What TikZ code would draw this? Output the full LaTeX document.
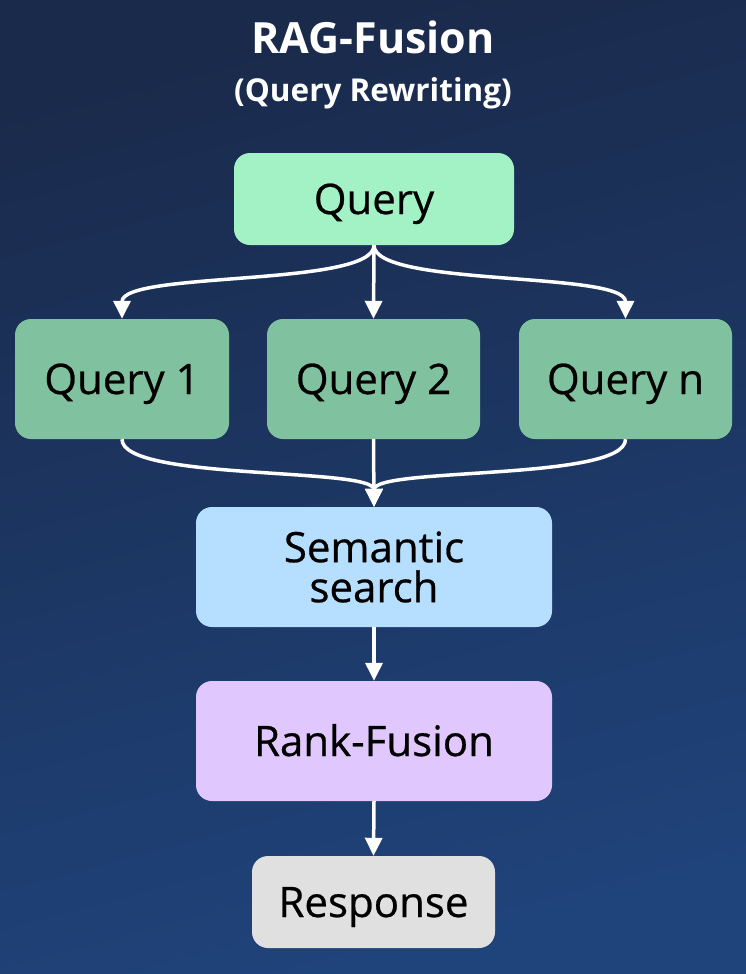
\documentclass[tikz,border=0pt]{standalone}
\usepackage{fontspec}
\setmainfont{Open Sans}
\usetikzlibrary{arrows.meta}
\definecolor{bgtop}{HTML}{1A2A4B}
\definecolor{bgbot}{HTML}{1F437B}
\definecolor{cquery}{HTML}{A3F2C5}
\definecolor{csub}{HTML}{80C29F}
\definecolor{csem}{HTML}{B6DEFE}
\definecolor{crank}{HTML}{E0C7FE}
\definecolor{cresp}{HTML}{E0E0E0}
\tikzset{
  box/.style={rounded corners=16pt, inner sep=0pt, align=center, text=black,
    font=\fontsize{42}{40}\selectfont\addfontfeature{FakeBold=0.6}},
  oneline/.style={text height=30pt, text depth=0pt},
  flow/.style={draw=white, line width=3.5pt,
    -{Triangle[length=18pt,width=17pt]}},
  titletext/.style={text=white, font=\bfseries\fontsize{43}{46}\selectfont, anchor=base, inner sep=0pt},
  subtitletext/.style={text=white, font=\bfseries\fontsize{31.5}{34}\selectfont, anchor=base, inner sep=0pt}
}
\begin{document}
\begin{tikzpicture}[x=1pt,y=-1pt]
\shade[top color=bgtop, bottom color=bgbot, shading angle=15] (0,0) rectangle (746,974);
\useasboundingbox (0,0) rectangle (746,974);

\node[titletext] (title) at (373,53) {RAG-Fusion};
\node[subtitletext] (subtitle) at (373,101) {(Query Rewriting)};

\node[box, oneline, fill=cquery, minimum width=280pt, minimum height=92pt] (query) at (374,199) {Query};
\node[box, oneline, fill=csub, minimum width=214pt, minimum height=120pt] (q1) at (122,379) {Query 1};
\node[box, oneline, fill=csub, minimum width=213pt, minimum height=120pt] (q2) at (373.5,379) {Query 2};
\node[box, oneline, fill=csub, minimum width=213pt, minimum height=120pt] (qn) at (625.5,379) {Query n};
\node[box, fill=csem, minimum width=356pt, minimum height=120pt] (sem) at (374,567) {Semantic\\search};
\node[box, oneline, fill=crank, minimum width=356pt, minimum height=120pt] (rank) at (374,741) {Rank-Fusion};
\node[box, oneline, fill=cresp, minimum width=243pt, minimum height=92pt] (resp) at (373.5,902) {Response};

\draw[flow] (query.south) .. controls +(0,42) and +(0,-48) .. (q1.north);
\draw[flow] (query.south) -- (q2.north);
\draw[flow] (query.south) .. controls +(0,42) and +(0,-48) .. (qn.north);

\draw[flow] (q1.south) .. controls +(0,42) and +(0,-40) .. (sem.north);
\draw[flow] (q2.south) -- (sem.north);
\draw[flow] (qn.south) .. controls +(0,42) and +(0,-40) .. (sem.north);

\draw[flow] (sem.south) -- (rank.north);
\draw[flow] (rank.south) -- (resp.north);
\end{tikzpicture}
\end{document}
